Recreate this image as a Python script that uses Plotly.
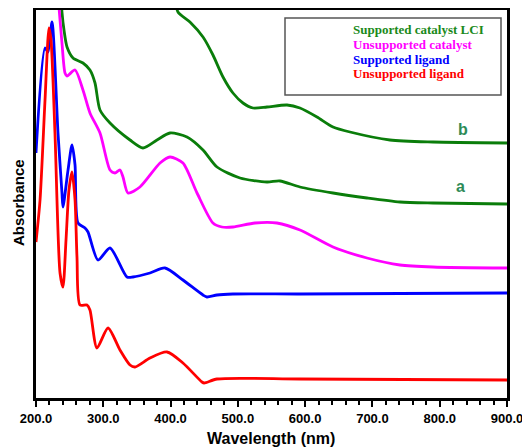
import plotly.graph_objects as go

# Wavelength (nm) / absorbance (a.u.)
blue_x = [200, 213.4, 217.8, 223.8, 232.7, 238.6, 240.1, 247.6, 253.5, 258, 262.4, 272.8, 277.3, 292.1, 310,
          335.2, 344.1, 369.4, 391.7, 418.4, 448.2, 454.1, 469, 492.7, 592, 741, 900]
blue_y = [2.45, 3.50, 3.46, 3.76, 2.65, 2.05, 1.91, 2.28, 2.53, 2.33, 1.75, 1.70, 1.66, 1.38, 1.50,
          1.21, 1.21, 1.25, 1.30, 1.18, 1.03, 1.01, 1.03, 1.04, 1.04, 1.045, 1.05]

red_x = [200, 206, 213.4, 219.3, 222.3, 228.2, 235.7, 240.1, 244.6, 249, 253.5, 258, 260.9, 265.4, 275.8, 280.2,
         290.6, 307, 324.8, 339.7, 347.1, 369.4, 394.7, 418.4, 446.7, 450, 469, 592, 900]
red_y = [1.56, 1.98, 2.98, 3.70, 3.58, 2.65, 1.25, 1.11, 1.58, 2.08, 2.26, 1.98, 1.41, 0.93, 0.93, 0.88,
         0.50, 0.70, 0.48, 0.33, 0.31, 0.40, 0.46, 0.35, 0.16, 0.15, 0.19, 0.19, 0.18]

mag_x = [232.7, 235.7, 238.6, 243.1, 246.1, 258, 269.8, 280.2, 295.1, 310, 317.4, 324.8, 329.3, 336.7, 354.5,
         384.3, 399.1, 418.4, 439.3, 463, 476.4, 492.7, 525.4, 558.1, 592.3, 641.4, 691.9, 740.9, 790, 900]
mag_y = [4.03, 3.78, 3.55, 3.25, 3.22, 3.28, 3.08, 2.85, 2.65, 2.28, 2.25, 2.28, 2.21, 2.05, 2.11,
         2.35, 2.41, 2.35, 2.05, 1.75, 1.71, 1.71, 1.75, 1.75, 1.68, 1.51, 1.40, 1.33, 1.31, 1.30]

ga_x = [237, 238.6, 241.6, 246.1, 255, 269.8, 280.2, 287.7, 295.1, 310, 339.7, 359, 379.8, 399.1, 424.4,
        448.2, 469, 503.2, 543.3, 562.6, 592.3, 641.4, 691.9, 740.9, 790, 900]
ga_y = [4.03, 3.86, 3.68, 3.51, 3.40, 3.35, 3.28, 3.15, 2.88, 2.75, 2.58, 2.50, 2.58, 2.65, 2.61,
        2.48, 2.31, 2.20, 2.16, 2.17, 2.11, 2.05, 2.00, 1.96, 1.95, 1.94]

gb_x = [406.6, 411, 428.8, 448.2, 463, 477.9, 492.7, 507.6, 522.5, 543.3, 573, 592.3, 617.6, 641.4, 666.6,
        726, 790, 900]
gb_y = [4.03, 3.86, 3.76, 3.61, 3.43, 3.21, 3.05, 2.95, 2.90, 2.91, 2.93, 2.90, 2.81, 2.71, 2.66,
        2.58, 2.56, 2.55]

tick_vals = [200, 300, 400, 500, 600, 700, 800, 900]
tick_text = ["200.0", "300.0", "400.0", "500.0", "600.0", "700.0", "800.0", "900.0"]

legend_names = ["Supported catalyst LCI", "Unsupported catalyst", "Supported ligand", "Unsupported ligand"]
legend_colors = ["#1a8a1a", "#ff00ff", "#0000ff", "#ff0000"]

GREEN = "#0a7d0a"
fig = go.Figure()
series = [(ga_x, ga_y, GREEN), (gb_x, gb_y, GREEN), (mag_x, mag_y, "#ff00ff"),
          (blue_x, blue_y, "#0000ff"), (red_x, red_y, "#ff0000")]
for xs, ys, c in series:
    fig.add_trace(go.Scatter(x=xs, y=ys, mode="lines", showlegend=False,
                             line=dict(color=c, width=2.8, shape="spline", smoothing=0.7)))

# page offset of the plot div (body margin 8px)
OFF = 8
FW, FH = 530 - OFF, 448 - OFF
L, R, T, B = 36 - OFF, 507 - OFF, 10 - OFF, 398 - OFF
W, H = R - L, B - T


def px(x):
    return (x - OFF - L) / W


def py(y):
    return (B - (y - OFF)) / H


fig.add_shape(type="rect", xref="paper", yref="paper", x0=px(285), x1=px(501), y0=py(95), y1=py(18),
              line=dict(color="#555555", width=1.5), fillcolor="white", layer="below")

for i, (name, col) in enumerate(zip(legend_names, legend_colors)):
    fig.add_annotation(xref="paper", yref="paper", x=px(351), y=py(29 + 15 * i), text="<b>" + name + "</b>",
                       showarrow=False, xanchor="left", yanchor="middle",
                       font=dict(family="Liberation Serif, Times New Roman, serif", size=13, color=col))

for lab, xv, yv in [("b", 834.6, 2.69), ("a", 831.6, 2.12)]:
    fig.add_annotation(x=xv, y=yv, text="<b>" + lab + "</b>", showarrow=False,
                       xanchor="center", yanchor="middle",
                       font=dict(family="Arial, Liberation Sans", size=16, color="#2e8b57"))

fig.add_annotation(xref="paper", yref="paper", x=px(18), y=py(203), text="<b>Absorbance</b>", textangle=-90,
                   showarrow=False, xanchor="center", yanchor="middle",
                   font=dict(family="Arial, Liberation Sans", size=15, color="black"))
fig.add_annotation(xref="paper", yref="paper", x=px(271), y=py(438), text="<b>Wavelength (nm)</b>",
                   showarrow=False, xanchor="center", yanchor="middle",
                   font=dict(family="Arial, Liberation Sans", size=16, color="black"))

fig.update_layout(
    width=FW, height=FH, margin=dict(l=L, r=FW - R, t=T, b=FH - B, autoexpand=False),
    paper_bgcolor="white", plot_bgcolor="white",
    xaxis=dict(range=[200, 900], tickvals=tick_vals, ticktext=tick_text, ticks="outside", ticklen=6,
               tickwidth=2, tickcolor="black", showgrid=False, zeroline=False, showline=True, linewidth=3,
               linecolor="black", mirror=True,
               tickfont=dict(family="Arial, Liberation Sans", size=13, color="black", weight="bold"),
               minor=dict(dtick=20, ticks="outside", ticklen=4, tickwidth=1.5, tickcolor="black", showgrid=False)),
    yaxis=dict(range=[0, 3.88], showticklabels=False, ticks="", showgrid=False, zeroline=False, showline=True,
               linewidth=3, linecolor="black", mirror=True),
)

fig.write_html("out.html")
